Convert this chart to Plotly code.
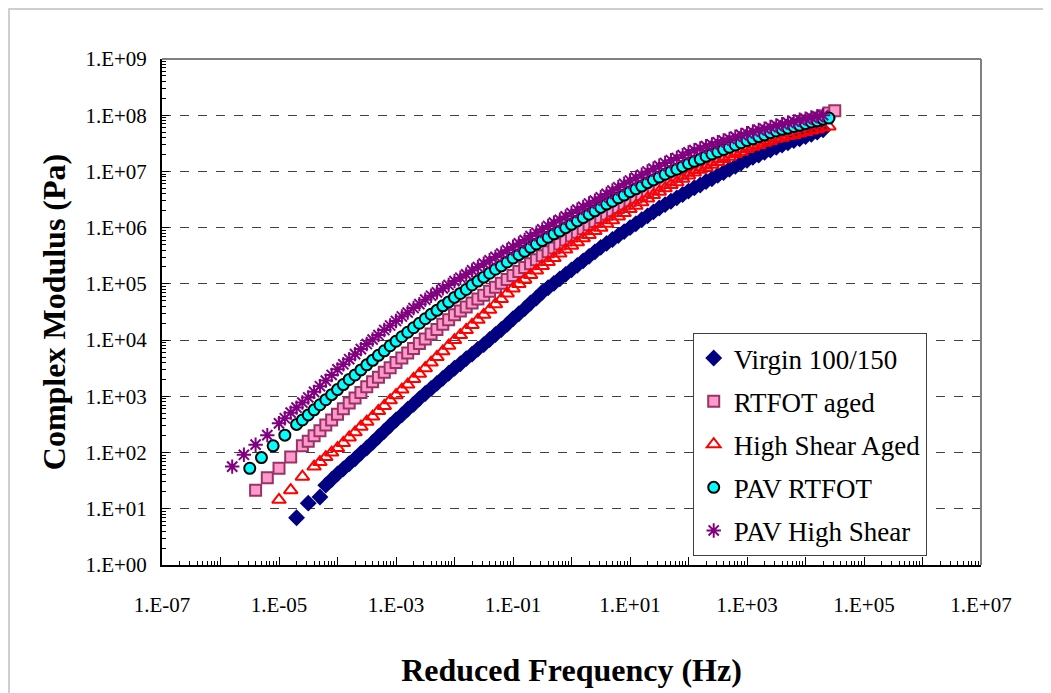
import plotly.graph_objects as go

# reduced frequency grid, log10(Hz)
log_freq = [
    -5.8, -5.7, -5.6, -5.5, -5.4, -5.3, -5.2, -5.1,
    -5.0, -4.9, -4.8, -4.7, -4.6, -4.5, -4.4, -4.3, -4.2, -4.1,
    -4.0, -3.9, -3.8, -3.7, -3.6, -3.5, -3.4, -3.3, -3.2, -3.1,
    -3.0, -2.9, -2.8, -2.7, -2.6, -2.5, -2.4, -2.3, -2.2, -2.1,
    -2.0, -1.9, -1.8, -1.7, -1.6, -1.5, -1.4, -1.3, -1.2, -1.1,
    -1.0, -0.9, -0.8, -0.7, -0.6, -0.5, -0.4, -0.3, -0.2, -0.1,
    0.0, 0.1, 0.2, 0.3, 0.4, 0.5, 0.6, 0.7, 0.8, 0.9,
    1.0, 1.1, 1.2, 1.3, 1.4, 1.5, 1.6, 1.7, 1.8, 1.9,
    2.0, 2.1, 2.2, 2.3, 2.4, 2.5, 2.6, 2.7, 2.8, 2.9,
    3.0, 3.1, 3.2, 3.3, 3.4, 3.5, 3.6, 3.7, 3.8, 3.9,
    4.0, 4.1, 4.2, 4.3, 4.4, 4.5,
]

N = None
# complex modulus, log10(Pa)
virgin_log_g = [
    N, N, N, N, N, N, N, N,
    N, N, N, 0.84, N, 1.10, N, 1.21, 1.42, 1.52,
    1.62, 1.71, 1.80, 1.89, 1.99, 2.08, 2.18, 2.28, 2.38, 2.48,
    2.58, 2.67, 2.77, 2.86, 2.96, 3.05, 3.14, 3.23, 3.32, 3.41,
    3.50, 3.58, 3.67, 3.75, 3.84, 3.92, 4.01, 4.10, 4.19, 4.28,
    4.38, 4.47, 4.56, 4.66, 4.75, 4.85, 4.93, 5.01, 5.09, 5.17,
    5.25, 5.33, 5.41, 5.49, 5.57, 5.65, 5.72, 5.79, 5.86, 5.93,
    6.00, 6.07, 6.14, 6.21, 6.28, 6.35, 6.41, 6.47, 6.53, 6.59,
    6.65, 6.71, 6.76, 6.82, 6.87, 6.93, 6.98, 7.04, 7.09, 7.15,
    7.20, 7.25, 7.29, 7.34, 7.38, 7.43, 7.47, 7.51, 7.55, 7.58,
    7.62, 7.66, 7.70, 7.74, N, N,
]
rtfot_log_g = [
    N, N, N, N, 1.33, N, 1.55, N,
    1.72, N, 1.92, N, 2.12, 2.20, 2.30, 2.39, 2.49, 2.58,
    2.68, 2.78, 2.88, 2.97, 3.07, 3.17, 3.26, 3.34, 3.43, 3.51,
    3.60, 3.68, 3.77, 3.85, 3.94, 4.02, 4.11, 4.19, 4.28, 4.36,
    4.45, 4.52, 4.59, 4.66, 4.73, 4.80, 4.87, 4.94, 5.01, 5.08,
    5.15, 5.22, 5.29, 5.36, 5.43, 5.50, 5.57, 5.64, 5.71, 5.78,
    5.85, 5.92, 5.98, 6.05, 6.11, 6.18, 6.24, 6.30, 6.36, 6.42,
    6.48, 6.54, 6.59, 6.65, 6.70, 6.76, 6.81, 6.86, 6.92, 6.97,
    7.02, 7.07, 7.12, 7.16, 7.21, 7.26, 7.30, 7.35, 7.39, 7.44,
    7.48, 7.52, 7.56, 7.60, 7.64, 7.68, 7.72, 7.75, 7.79, 7.82,
    7.86, 7.90, 7.95, 7.99, 8.04, 8.08,
]
shear_log_g = [
    N, N, N, N, N, N, N, N,
    1.16, N, 1.33, N, 1.57, N, 1.75, 1.83, 1.92, 2.00,
    2.08, 2.17, 2.27, 2.36, 2.46, 2.55, 2.64, 2.74, 2.83, 2.93,
    3.02, 3.12, 3.21, 3.31, 3.40, 3.50, 3.60, 3.70, 3.80, 3.90,
    4.00, 4.09, 4.18, 4.27, 4.36, 4.45, 4.54, 4.64, 4.73, 4.83,
    4.92, 5.00, 5.08, 5.16, 5.24, 5.32, 5.39, 5.46, 5.54, 5.61,
    5.68, 5.74, 5.81, 5.87, 5.94, 6.00, 6.07, 6.13, 6.20, 6.26,
    6.33, 6.39, 6.45, 6.52, 6.58, 6.64, 6.70, 6.76, 6.81, 6.87,
    6.93, 6.98, 7.03, 7.07, 7.12, 7.17, 7.22, 7.26, 7.31, 7.35,
    7.40, 7.44, 7.47, 7.51, 7.54, 7.58, 7.60, 7.63, 7.65, 7.68,
    7.70, 7.73, 7.75, 7.78, 7.80, N,
]
pav_rtfot_log_g = [
    N, N, N, 1.72, N, 1.91, N, 2.12,
    N, 2.31, N, 2.50, 2.58, 2.67, 2.76, 2.85, 2.94, 3.03,
    3.12, 3.21, 3.30, 3.38, 3.47, 3.56, 3.64, 3.73, 3.81, 3.90,
    3.98, 4.06, 4.14, 4.22, 4.30, 4.38, 4.46, 4.53, 4.61, 4.68,
    4.76, 4.83, 4.90, 4.98, 5.05, 5.12, 5.19, 5.26, 5.32, 5.39,
    5.46, 5.52, 5.58, 5.65, 5.71, 5.77, 5.83, 5.89, 5.94, 6.00,
    6.06, 6.12, 6.18, 6.24, 6.30, 6.36, 6.42, 6.47, 6.53, 6.58,
    6.64, 6.69, 6.74, 6.80, 6.85, 6.90, 6.95, 7.00, 7.04, 7.09,
    7.14, 7.18, 7.22, 7.27, 7.31, 7.35, 7.39, 7.43, 7.47, 7.51,
    7.55, 7.58, 7.62, 7.65, 7.69, 7.72, 7.75, 7.77, 7.80, 7.82,
    7.85, 7.88, 7.90, 7.93, 7.95, N,
]
pav_shear_log_g = [
    1.75, N, 1.96, N, 2.14, N, 2.31, N,
    2.52, 2.61, 2.71, 2.80, 2.89, 2.98, 3.08, 3.18, 3.28, 3.38,
    3.48, 3.57, 3.66, 3.75, 3.84, 3.93, 4.01, 4.09, 4.18, 4.26,
    4.34, 4.42, 4.49, 4.57, 4.64, 4.72, 4.79, 4.85, 4.92, 4.98,
    5.05, 5.11, 5.17, 5.24, 5.30, 5.36, 5.42, 5.48, 5.54, 5.60,
    5.66, 5.72, 5.78, 5.85, 5.91, 5.97, 6.03, 6.09, 6.14, 6.20,
    6.26, 6.32, 6.37, 6.43, 6.48, 6.54, 6.60, 6.66, 6.72, 6.78,
    6.84, 6.89, 6.94, 7.00, 7.05, 7.10, 7.15, 7.20, 7.24, 7.29,
    7.34, 7.38, 7.41, 7.45, 7.48, 7.52, 7.55, 7.58, 7.62, 7.65,
    7.68, 7.71, 7.74, 7.76, 7.79, 7.82, 7.84, 7.87, 7.89, 7.92,
    7.94, 7.96, 7.98, 8.00, N, N,
]

x_tick_vals = [1e-7, 1e-6, 1e-5, 1e-4, 1e-3, 1e-2, 1e-1, 1e0, 1e1, 1e2, 1e3, 1e4, 1e5, 1e6, 1e7]
x_tick_labels = ["1.E-07", "", "1.E-05", "", "1.E-03", "", "1.E-01", "",
                 "1.E+01", "", "1.E+03", "", "1.E+05", "", "1.E+07"]
y_tick_vals = [1e0, 1e1, 1e2, 1e3, 1e4, 1e5, 1e6, 1e7, 1e8, 1e9]
y_tick_labels = ["1.E+00", "1.E+01", "1.E+02", "1.E+03", "1.E+04",
                 "1.E+05", "1.E+06", "1.E+07", "1.E+08", "1.E+09"]

FONT = "Liberation Serif, Times New Roman, serif"


def pts(log_g):
    xs, ys = [], []
    for lf, lg in zip(log_freq, log_g):
        if lg is not None:
            xs.append(10 ** lf)
            ys.append(10 ** lg)
    return xs, ys


series = [
    ("Virgin 100/150", virgin_log_g,
     dict(symbol="diamond", size=13, color="#000080", line=dict(width=0))),
    ("RTFOT aged", rtfot_log_g,
     dict(symbol="square", size=11, color="#FF99CC", line=dict(color="#993366", width=2))),
    ("High Shear Aged", shear_log_g,
     dict(symbol="triangle-up-open", size=12, color="#FF0000", line=dict(color="#FF0000", width=2))),
    ("PAV RTFOT", pav_rtfot_log_g,
     dict(symbol="circle", size=11, color="#00FFFF", line=dict(color="#000000", width=2))),
    ("PAV High Shear", pav_shear_log_g,
     dict(symbol="asterisk-open", size=12, color="#800080", line=dict(color="#800080", width=2))),
]

fig = go.Figure()
for i, (name, vals, marker) in enumerate(series):
    xs, ys = pts(vals)
    fig.add_trace(go.Scatter(x=xs, y=ys, mode="markers", name=name, marker=marker,
                             legendgroup="g%d" % i))

fig.update_layout(
    width=1043, height=685,
    margin=dict(l=154, r=70, t=51, b=128),
    paper_bgcolor="white", plot_bgcolor="white",
    font=dict(family=FONT, color="black"),
    showlegend=True,
    legend=dict(x=0.648, y=0.4585, xanchor="left", yanchor="top",
                bgcolor="white", bordercolor="#404040", borderwidth=1,
                font=dict(family=FONT, size=27, color="black"),
                tracegroupgap=5, traceorder="grouped"),
    xaxis=dict(type="log", range=[-7, 7], showgrid=False, zeroline=False,
               showline=True, linecolor="black", linewidth=2,
               tickmode="array", tickvals=x_tick_vals, ticktext=x_tick_labels,
               ticks="inside", ticklen=8, tickwidth=1, tickcolor="black",
               minor=dict(ticks="inside", ticklen=4, dtick="D1", tickcolor="black", showgrid=False),
               tickfont=dict(family=FONT, size=21, color="black"),
               ticklabelstandoff=20,
               title=dict(text="<b>Reduced Frequency (Hz)</b>",
                          font=dict(family=FONT, size=32, color="black"), standoff=42)),
    yaxis=dict(type="log", range=[0, 9], zeroline=False,
               showgrid=True, gridcolor="#404040", gridwidth=1, griddash="dash",
               showline=True, linecolor="black", linewidth=2,
               tickmode="array", tickvals=y_tick_vals, ticktext=y_tick_labels,
               ticks="inside", ticklen=7, tickwidth=1, tickcolor="black",
               minor=dict(ticks="inside", ticklen=4, dtick="D1", tickcolor="black", showgrid=False),
               tickfont=dict(family=FONT, size=21, color="black"),
               ticklabelstandoff=9,
               title=dict(text="<b>Complex Modulus (Pa)</b>",
                          font=dict(family=FONT, size=32, color="black"), standoff=10)),
    shapes=[
        dict(type="line", xref="paper", yref="paper", x0=0, x1=1, y0=1, y1=1,
             line=dict(color="#808080", width=2)),
        dict(type="line", xref="paper", yref="paper", x0=1, x1=1, y0=0, y1=1,
             line=dict(color="#808080", width=2)),
        dict(type="rect", xref="paper", yref="paper",
             x0=-153 / 819, x1=886 / 819, y0=-140 / 506, y1=556 / 506,
             line=dict(color="#C0C0C0", width=1.5), layer="below"),
    ],
)

fig.write_html("out.html")
